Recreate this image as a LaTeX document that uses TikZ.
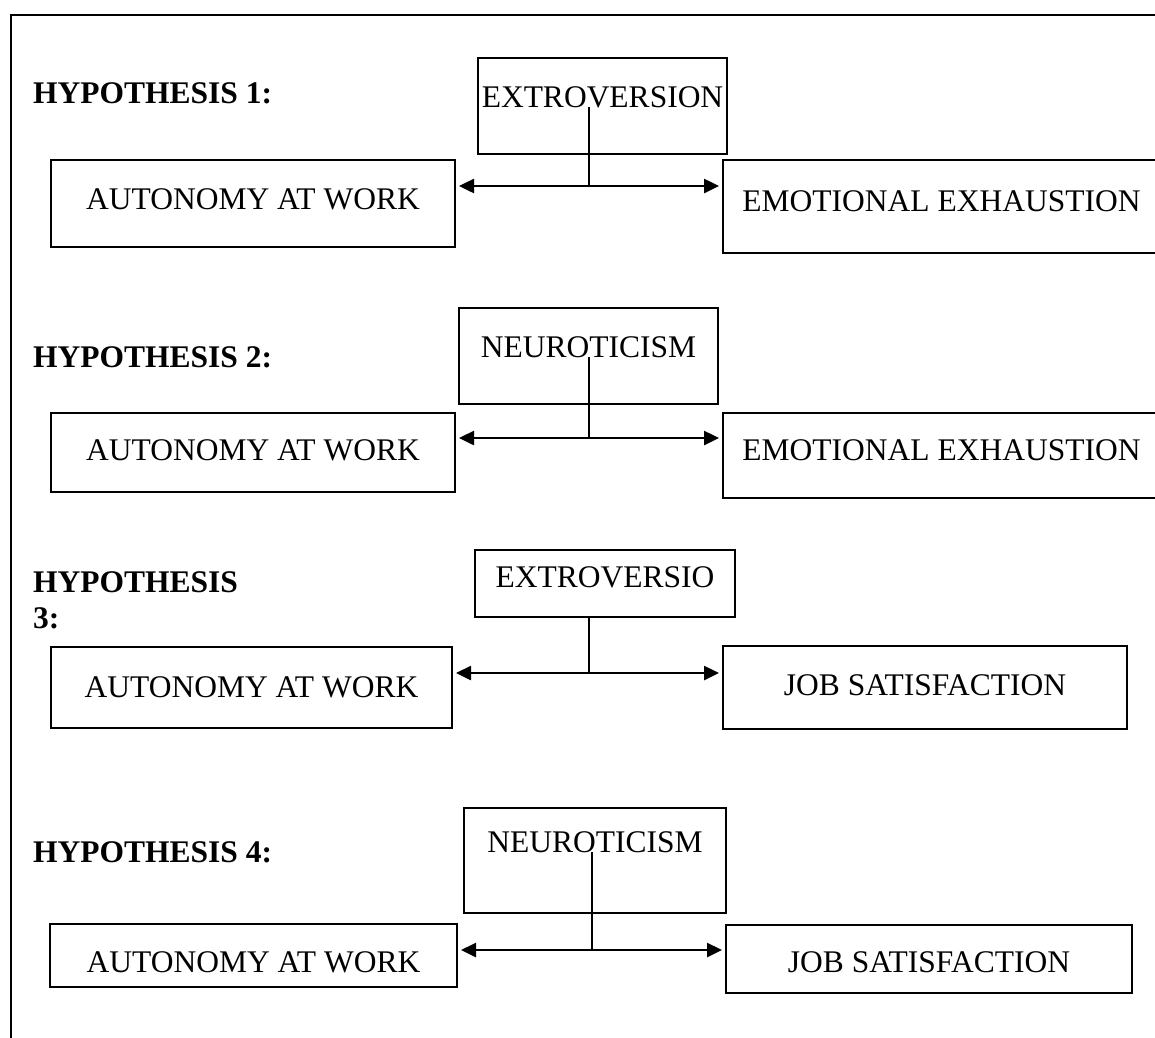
\documentclass[tikz,border=0pt]{standalone}
\usepackage{fontspec}
\setmainfont{Liberation Serif}
\usetikzlibrary{arrows.meta}
\newcommand\hypfont{\fontsize{31.5}{36}\selectfont}
\begin{document}
\begin{tikzpicture}[x=1pt,y=-1pt,
    varbox/.style={draw,line width=2pt,inner xsep=0pt,inner ysep=0pt,anchor=base,font=\hypfont},
    heading/.style={inner sep=0pt,font=\hypfont\bfseries},
    biarrow/.style={{Triangle[length=15pt,width=14pt]}-{Triangle[length=15pt,width=14pt]},line width=2.5pt,shorten <=3pt,shorten >=3pt},
    stem/.style={line width=1.2pt}]
    \useasboundingbox (0,0) rectangle (1155,1037);
    \clip (0,0) rectangle (1155,1037);
    \draw[line width=1.5pt] (1170,15) -- (11,15) -- (11,1050);

    \node[heading,anchor=base west] (h1) at (33,103) {HYPOTHESIS 1:};
    \node[varbox,minimum width=404pt,text height=49pt,text depth=38pt] (aut1) at (253,209) {AUTONOMY AT WORK};
    \node[varbox,minimum width=437pt,text height=51pt,text depth=42pt] (ee1) at (941.5,211) {EMOTIONAL EXHAUSTION};
    \node[varbox,minimum width=249pt,text height=49pt,text depth=47pt] (mod1) at (602.5,107) {EXTROVERSION};
    \coordinate (mid1) at (589,186);
    \draw[biarrow] (aut1.east |- mid1) -- (ee1.west |- mid1);
    \draw[stem] (mid1 |- mod1.base) -- (mid1);

    \node[heading,anchor=base west] (h2) at (33,367) {HYPOTHESIS 2:};
    \node[varbox,minimum width=404pt,text height=47pt,text depth=32pt] (aut2) at (253,460) {AUTONOMY AT WORK};
    \node[varbox,minimum width=437pt,text height=47pt,text depth=38pt] (ee2) at (941.5,460) {EMOTIONAL EXHAUSTION};
    \node[varbox,minimum width=259pt,text height=49pt,text depth=47pt] (mod2) at (588.5,357) {NEUROTICISM};
    \coordinate (mid2) at (589,438);
    \draw[biarrow] (aut2.east |- mid2) -- (ee2.west |- mid2);
    \draw[stem] (mid2 |- mod2.base) -- (mid2);

    \node[heading,anchor=north west,align=left] (h3) at (33,571) {HYPOTHESIS\\3:};
    \node[varbox,minimum width=401pt,text height=50pt,text depth=31pt] (aut3) at (251.5,697) {AUTONOMY AT WORK};
    \node[varbox,minimum width=404pt,text height=49pt,text depth=34pt] (js3) at (925,695) {JOB SATISFACTION};
    \node[varbox,minimum width=260pt,text height=37pt,text depth=30pt] (mod3) at (605,587) {EXTROVERSIO};
    \coordinate (mid3) at (589,673);
    \draw[biarrow] (aut3.east |- mid3) -- (js3.west |- mid3);
    \draw[stem] (mid3 |- mod3.south) -- (mid3);

    \node[heading,anchor=base west] (h4) at (33,862) {HYPOTHESIS 4:};
    \node[varbox,minimum width=407pt,text height=48pt,text depth=15pt] (aut4) at (253.5,972) {AUTONOMY AT WORK};
    \node[varbox,minimum width=406pt,text height=47pt,text depth=21pt] (js4) at (929,972) {JOB SATISFACTION};
    \node[varbox,minimum width=262pt,text height=44pt,text depth=61pt] (mod4) at (595,852) {NEUROTICISM};
    \coordinate (mid4) at (592,950);
    \draw[biarrow] (aut4.east |- mid4) -- (js4.west |- mid4);
    \draw[stem] (mid4 |- mod4.base) -- (mid4);
\end{tikzpicture}
\end{document}
